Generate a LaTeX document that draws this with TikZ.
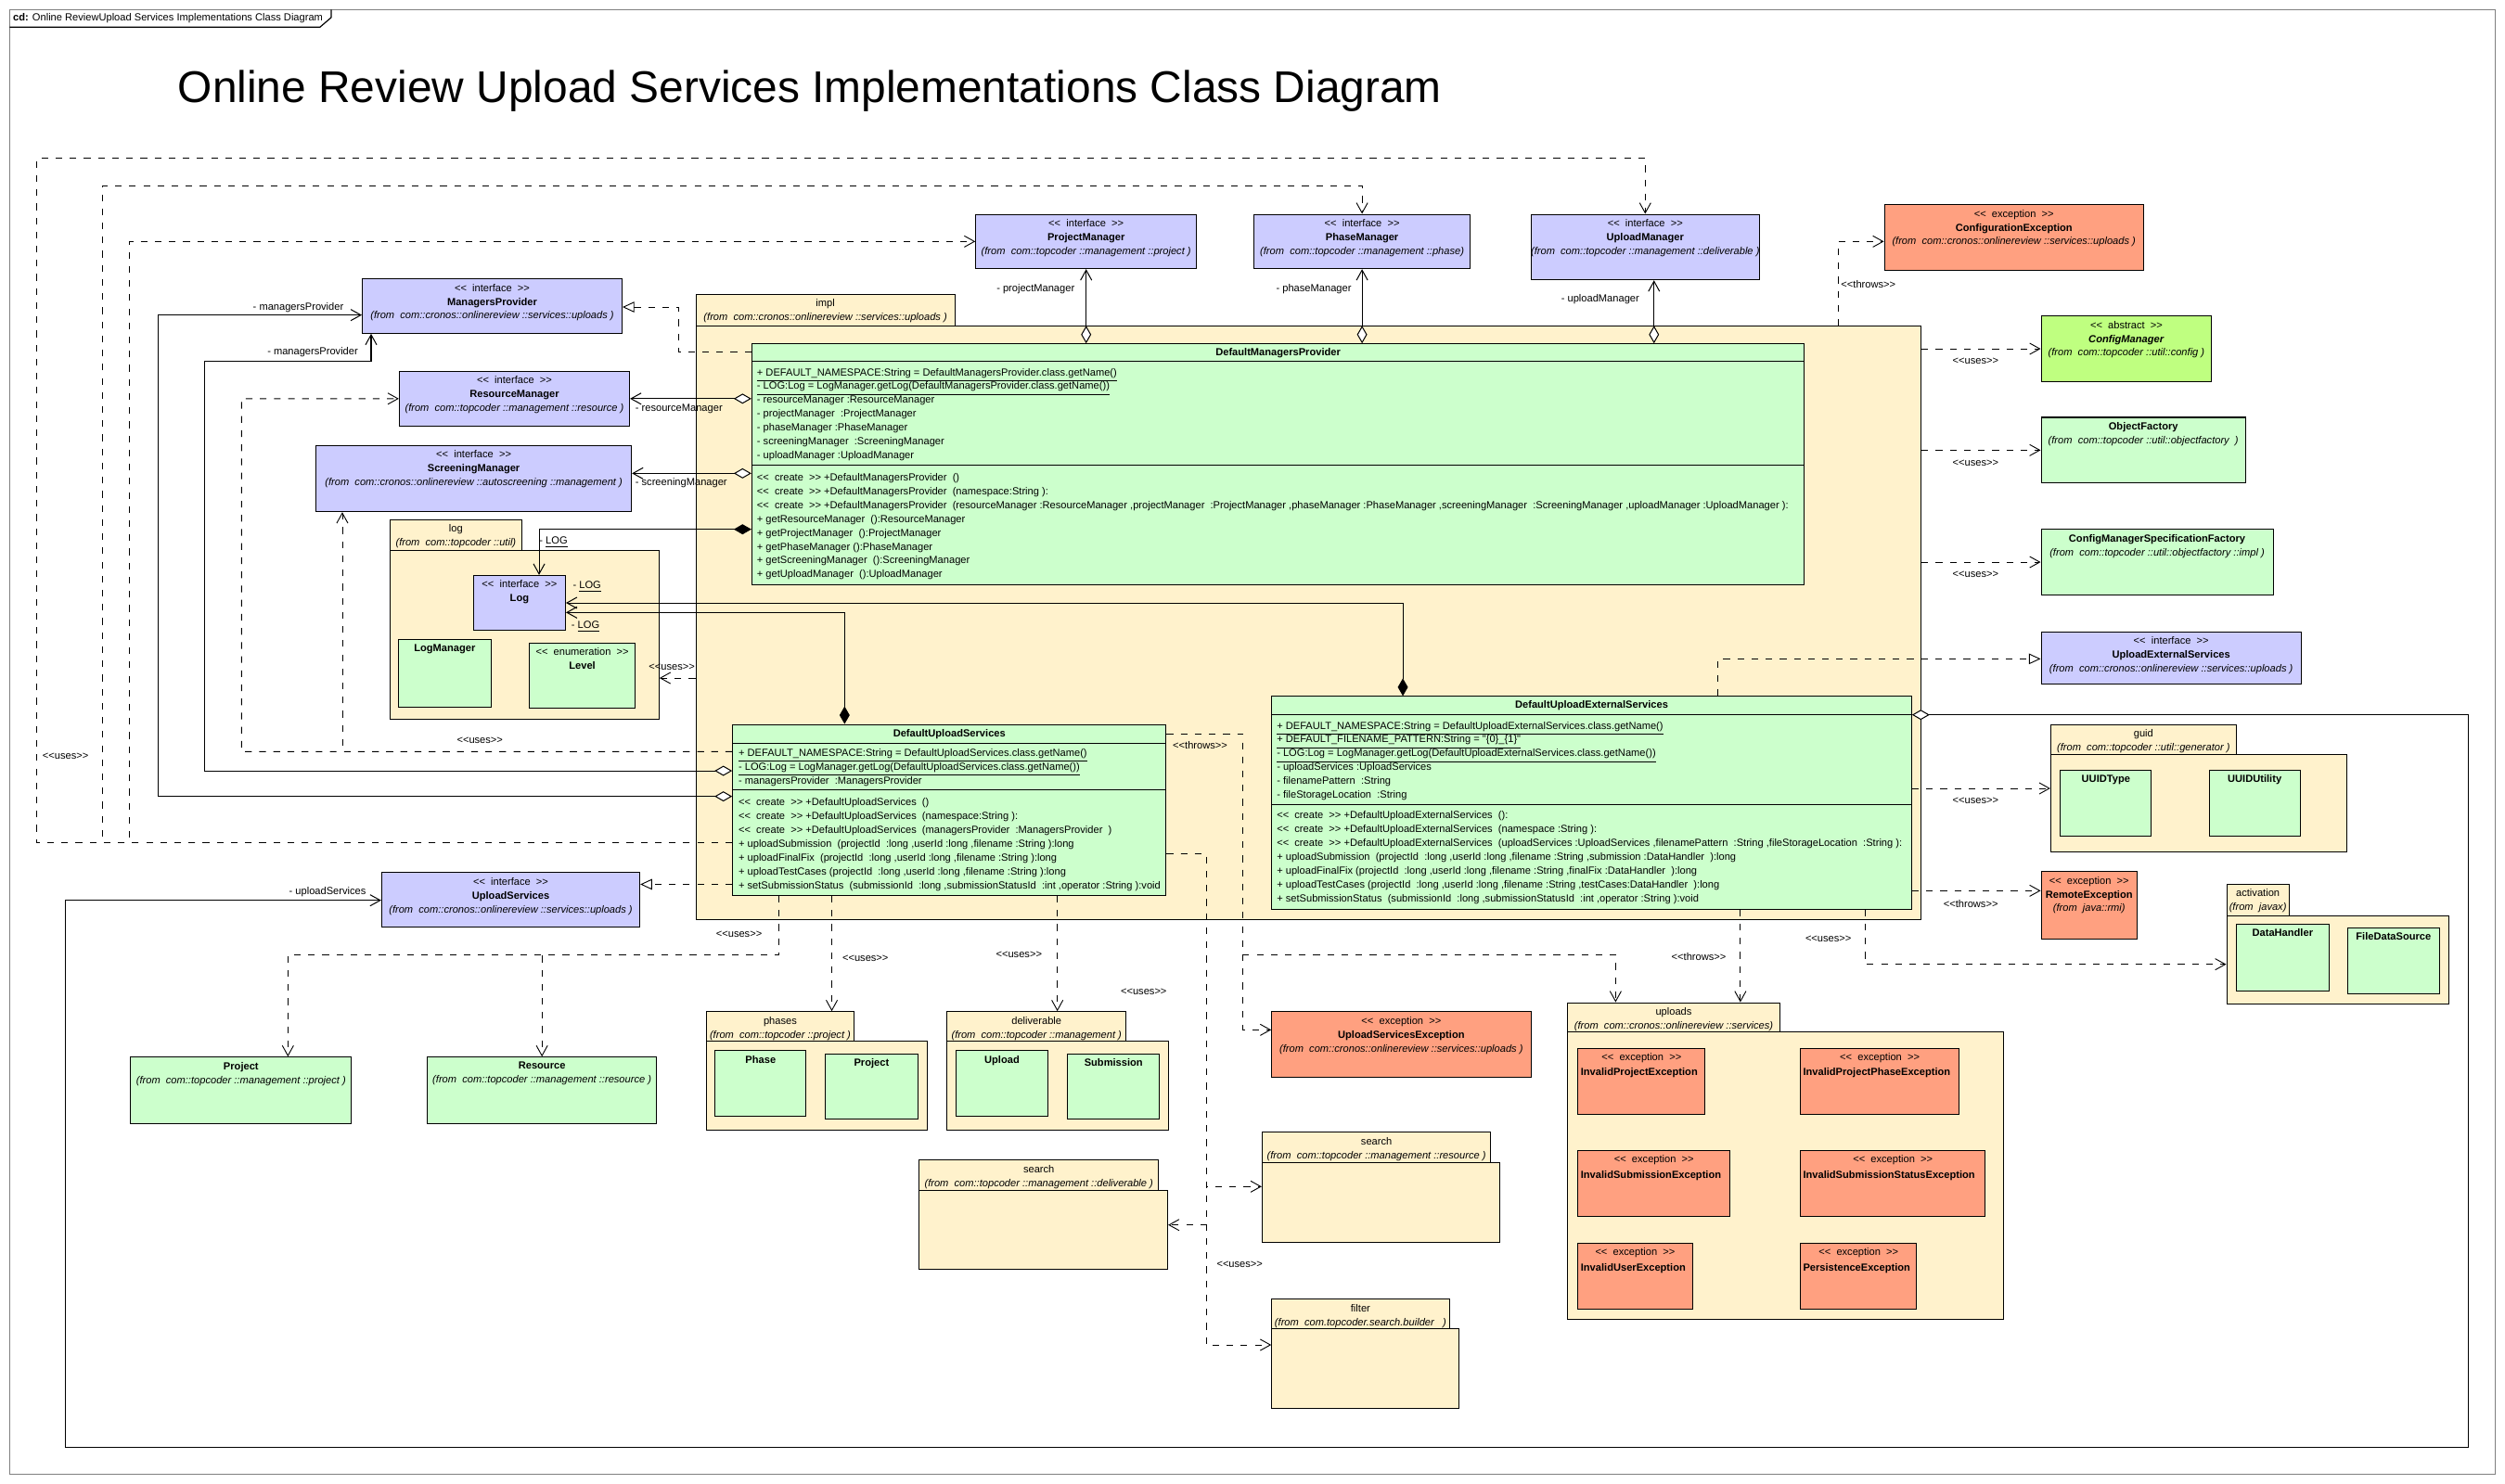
\documentclass[tikz,border=0pt]{standalone}
\usepackage{fontspec}
\newfontfamily\umlfont{Liberation Sans}
\usetikzlibrary{arrows.meta,fit}

\definecolor{ifcol}{RGB}{204,204,255}
\definecolor{clscol}{RGB}{204,255,204}
\definecolor{abscol}{RGB}{191,255,128}
\definecolor{exccol}{RGB}{255,160,128}
\definecolor{pkgcol}{RGB}{255,242,204}

\newcommand{\stereo}[1]{<<\ \ #1\ \ >>}
\newcommand{\fromp}[1]{\textit{(from\ \ #1}}

\tikzset{
  box/.style={draw, line width=0.5pt, inner sep=0pt},
  ifbox/.style={box, fill=ifcol},
  clbox/.style={box, fill=clscol},
  abbox/.style={box, fill=abscol},
  exbox/.style={box, fill=exccol},
  pkbox/.style={box, fill=pkgcol},
  txt/.style={font=\umlfont\fontsize{5.5}{7.4}\selectfont, inner sep=0pt},
  hd/.style={txt, align=center, anchor=north, yshift=-0.95mm},
  cbody/.style={txt, align=left, anchor=north west},
  lbl/.style={txt},
  dline/.style={line width=0.45pt, dash pattern=on 1.25mm off 1.4mm},
  dep/.style={draw, dline, -{Straight Barb[length=1.9mm,width=2.1mm]}},
  realize/.style={draw, dline, -{Triangle[length=2.2mm,width=2mm,fill=white]}},
  aggr/.style={draw, line width=0.5pt, {Diamond[length=3.3mm,width=1.9mm,fill=white]}-{Straight Barb[length=1.9mm,width=2.1mm]}},
  comp/.style={draw, line width=0.5pt, {Diamond[length=3.3mm,width=1.9mm]}-{Straight Barb[length=1.9mm,width=2.1mm]}},
}

\begin{document}
\begin{tikzpicture}[x=0.3mm, y=-0.3mm]
\useasboundingbox (0,0) rectangle (1566,928);

% frame and title
\draw[gray, line width=0.6pt] (6,6) rectangle (1560,922);
\draw[line width=0.6pt] (6,17) -- (200,17) -- (207,11) -- (207,6);
\node[txt, anchor=west] (tabTxt) at (8,11.5) {\textbf{cd:} Online ReviewUpload Services Implementations Class Diagram};
\node[anchor=base west, inner sep=0pt, font=\umlfont\fontsize{23.7}{28}\selectfont] (title) at (111,64) {Online Review Upload Services Implementations Class Diagram};

% packages
\node[pkbox, fit={(435,184) (597,204)}] (implTab) {};
\node[pkbox, fit={(435,204) (1201,575)}] (implPkg) {};
\node[hd] (implTxt) at (implTab.north) {impl\\\fromp{com::cronos::onlinereview ::services::uploads )}};

\node[pkbox, fit={(244,325) (326,344)}] (logTab) {};
\node[pkbox, fit={(244,344) (412,450)}] (logPkg) {};
\node[hd] (logTxt) at (logTab.north) {log\\\fromp{com::topcoder ::util)}};

\node[pkbox, fit={(1282,453) (1398,472)}] (guidTab) {};
\node[pkbox, fit={(1282,472) (1467,533)}] (guidPkg) {};
\node[hd] (guidTxt) at (guidTab.north) {guid\\\fromp{com::topcoder ::util::generator )}};

\node[pkbox, fit={(1392,553) (1431,572.5)}] (actTab) {};
\node[pkbox, fit={(1392,572.5) (1531,628)}] (actPkg) {};
\node[hd] (actTxt) at (actTab.north) {activation\\\fromp{javax)}};

\node[pkbox, fit={(441.5,632.6) (534,651)}] (phTab) {};
\node[pkbox, fit={(441.5,651) (579.5,706.7)}] (phPkg) {};
\node[hd] (phTxt) at (phTab.north) {phases\\\fromp{com::topcoder ::project )}};

\node[pkbox, fit={(592,632.6) (704,651)}] (delTab) {};
\node[pkbox, fit={(592,651) (730.5,706.7)}] (delPkg) {};
\node[hd] (delTxt) at (delTab.north) {deliverable\\\fromp{com::topcoder ::management )}};

\node[pkbox, fit={(574.6,725.5) (724.3,744.3)}] (srchDTab) {};
\node[pkbox, fit={(574.6,744.3) (730,794)}] (srchDPkg) {};
\node[hd] (srchDTxt) at (srchDTab.north) {search\\\fromp{com::topcoder ::management ::deliverable )}};

\node[pkbox, fit={(789,708) (932,727)}] (srchRTab) {};
\node[pkbox, fit={(789,727) (937.6,777)}] (srchRPkg) {};
\node[hd] (srchRTxt) at (srchRTab.north) {search\\\fromp{com::topcoder ::management ::resource )}};

\node[pkbox, fit={(795,812.5) (906,831)}] (fltTab) {};
\node[pkbox, fit={(795,831) (912,881)}] (fltPkg) {};
\node[hd] (fltTxt) at (fltTab.north) {filter\\\fromp{com.topcoder.search.builder\ \ \ )}};

\node[pkbox, fit={(980,627) (1112.6,645.4)}] (upTab) {};
\node[pkbox, fit={(980,645.4) (1252.6,825)}] (upPkg) {};
\node[hd] (upTxt) at (upTab.north) {uploads\\\fromp{com::cronos::onlinereview ::services)}};

% interfaces
\node[ifbox, fit={(610,134) (748,168)}] (projMgr) {};
\node[hd] (projMgrT) at (projMgr.north) {\stereo{interface}\\\textbf{ProjectManager}\\\fromp{com::topcoder ::management ::project )}};
\node[ifbox, fit={(784,134) (919,168)}] (phaseMgr) {};
\node[hd] (phaseMgrT) at (phaseMgr.north) {\stereo{interface}\\\textbf{PhaseManager}\\\fromp{com::topcoder ::management ::phase)}};
\node[ifbox, fit={(957,134) (1100,175)}] (uploadMgr) {};
\node[hd] (uploadMgrT) at (uploadMgr.north) {\stereo{interface}\\\textbf{UploadManager}\\\fromp{com::topcoder ::management ::deliverable )}};
\node[ifbox, fit={(226.5,174.4) (388.9,208.4)}] (mgrsProv) {};
\node[hd] (mgrsProvT) at (mgrsProv.north) {\stereo{interface}\\\textbf{ManagersProvider}\\\fromp{com::cronos::onlinereview ::services::uploads )}};
\node[ifbox, fit={(249.6,232.2) (393.6,266.4)}] (resMgr) {};
\node[hd] (resMgrT) at (resMgr.north) {\stereo{interface}\\\textbf{ResourceManager}\\\fromp{com::topcoder ::management ::resource )}};
\node[ifbox, fit={(197.5,278.4) (394.8,320)}] (scrMgr) {};
\node[hd] (scrMgrT) at (scrMgr.north) {\stereo{interface}\\\textbf{ScreeningManager}\\\fromp{com::cronos::onlinereview ::autoscreening ::management )}};
\node[ifbox, fit={(296,359.8) (353.5,394)}] (logIf) {};
\node[hd] (logIfT) at (logIf.north) {\stereo{interface}\\\textbf{Log}};
\node[ifbox, fit={(238.6,545.6) (400,579.5)}] (uplSvc) {};
\node[hd] (uplSvcT) at (uplSvc.north) {\stereo{interface}\\\textbf{UploadServices}\\\fromp{com::cronos::onlinereview ::services::uploads )}};
\node[ifbox, fit={(1276,395) (1438.6,428)}] (uplExtSvc) {};
\node[hd] (uplExtSvcT) at (uplExtSvc.north) {\stereo{interface}\\\textbf{UploadExternalServices}\\\fromp{com::cronos::onlinereview ::services::uploads )}};

% other classes
\node[exbox, fit={(1178,128) (1340,169)}] (cfgExc) {};
\node[hd] (cfgExcT) at (cfgExc.north) {\stereo{exception}\\\textbf{ConfigurationException}\\\fromp{com::cronos::onlinereview ::services::uploads )}};
\node[abbox, fit={(1276,197.6) (1382.6,238.6)}] (cfgMgr) {};
\node[hd] (cfgMgrT) at (cfgMgr.north) {\stereo{abstract}\\\textbf{\textit{ConfigManager}}\\\fromp{com::topcoder ::util::config )}};
\node[clbox, fit={(1276,261) (1403.8,302)}] (objFac) {};
\node[hd] (objFacT) at (objFac.north) {\textbf{ObjectFactory}\\\fromp{com::topcoder ::util::objectfactory\ \ )}};
\node[clbox, fit={(1276,331) (1421,372)}] (cmsf) {};
\node[hd] (cmsfT) at (cmsf.north) {\textbf{ConfigManagerSpecificationFactory}\\\fromp{com::topcoder ::util::objectfactory ::impl )}};
\node[exbox, fit={(1276,545) (1336,587)}] (remExc) {};
\node[hd] (remExcT) at (remExc.north) {\stereo{exception}\\\textbf{RemoteException}\\\fromp{java::rmi)}};
\node[exbox, fit={(795,632.6) (957,673.5)}] (uplSvcExc) {};
\node[hd] (uplSvcExcT) at (uplSvcExc.north) {\stereo{exception}\\\textbf{UploadServicesException}\\\fromp{com::cronos::onlinereview ::services::uploads )}};
\node[clbox, fit={(81.7,661) (219.7,702.5)}] (project) {};
\node[hd] (projectT) at (project.north) {\textbf{Project}\\\fromp{com::topcoder ::management ::project )}};
\node[clbox, fit={(267,661) (410.6,702.5)}] (resource) {};
\node[hd] (resourceT) at (resource.north) {\textbf{Resource}\\\fromp{com::topcoder ::management ::resource )}};

\node[clbox, fit={(249,400) (307,442)}] (logMgr) {};
\node[hd] (logMgrT) at (logMgr.north) {\textbf{LogManager}};
\node[clbox, fit={(331,402) (397,443)}] (level) {};
\node[hd] (levelT) at (level.north) {\stereo{enumeration}\\\textbf{Level}};
\node[clbox, fit={(1288,481.5) (1345,523)}] (uuidType) {};
\node[hd] (uuidTypeT) at (uuidType.north) {\textbf{UUIDType}};
\node[clbox, fit={(1381,481.5) (1438,523)}] (uuidUtil) {};
\node[hd] (uuidUtilT) at (uuidUtil.north) {\textbf{UUIDUtility}};
\node[clbox, fit={(1398,578) (1456,619.5)}] (dataHandler) {};
\node[hd] (dataHandlerT) at (dataHandler.north) {\textbf{DataHandler}};
\node[clbox, fit={(1467.6,580) (1525,621.6)}] (fileDS) {};
\node[hd] (fileDST) at (fileDS.north) {\textbf{FileDataSource}};
\node[clbox, fit={(447,657) (504,698)}] (phase) {};
\node[hd] (phaseT) at (phase.north) {\textbf{Phase}};
\node[clbox, fit={(516,659) (573.7,700)}] (phProject) {};
\node[hd] (phProjectT) at (phProject.north) {\textbf{Project}};
\node[clbox, fit={(597.8,657) (655,698)}] (upload) {};
\node[hd] (uploadT) at (upload.north) {\textbf{Upload}};
\node[clbox, fit={(667.5,659) (724.8,700)}] (submission) {};
\node[hd] (submissionT) at (submission.north) {\textbf{Submission}};

% exceptions of the uploads package
\node[exbox, fit={(986.4,655.5) (1066,697)}] (invProj) {};
\node[hd] (invProjS) at (invProj.north) {\stereo{exception}};
\node[txt, anchor=west] (invProjN) at (988,671) {\textbf{InvalidProjectException}};
\node[exbox, fit={(1125.6,655.5) (1224.7,697)}] (invPhase) {};
\node[hd] (invPhaseS) at (invPhase.north) {\stereo{exception}};
\node[txt, anchor=west] (invPhaseN) at (1127,671) {\textbf{InvalidProjectPhaseException}};
\node[exbox, fit={(986.4,719.4) (1081.6,760.8)}] (invSub) {};
\node[hd] (invSubS) at (invSub.north) {\stereo{exception}};
\node[txt, anchor=west] (invSubN) at (988,735) {\textbf{InvalidSubmissionException}};
\node[exbox, fit={(1125.6,719.4) (1241,760.8)}] (invStat) {};
\node[hd] (invStatS) at (invStat.north) {\stereo{exception}};
\node[txt, anchor=west] (invStatN) at (1127,735) {\textbf{InvalidSubmissionStatusException}};
\node[exbox, fit={(986.4,777.4) (1058,818.6)}] (invUser) {};
\node[hd] (invUserS) at (invUser.north) {\stereo{exception}};
\node[txt, anchor=west] (invUserN) at (988,793) {\textbf{InvalidUserException}};
\node[exbox, fit={(1125.6,777.4) (1198.2,818.6)}] (persist) {};
\node[hd] (persistS) at (persist.north) {\stereo{exception}};
\node[txt, anchor=west] (persistN) at (1127,793) {\textbf{PersistenceException}};

% DefaultManagersProvider
\node[clbox, fit={(470,215) (1128,365.5)}] (dmp) {};
\draw[line width=0.5pt] (dmp.west |- 0,226) -- (dmp.east |- 0,226);
\draw[line width=0.5pt] (dmp.west |- 0,291) -- (dmp.east |- 0,291);
\node[txt] (dmpName) at (799,221) {\textbf{DefaultManagersProvider}};
\node[cbody] (dmpAttr) at (473,230) {\underline{+ DEFAULT\_NAMESPACE:String = DefaultManagersProvider.class.getName()}\\
\underline{- LOG:Log = LogManager.getLog(DefaultManagersProvider.class.getName())}\\
- resourceManager :ResourceManager\\
- projectManager\ \ :ProjectManager\\
- phaseManager :PhaseManager\\
- screeningManager\ \ :ScreeningManager\\
- uploadManager :UploadManager};
\node[cbody] (dmpOps) at (473,295.7) {\stereo{create} +DefaultManagersProvider\ \ ()\\
\stereo{create} +DefaultManagersProvider\ \ (namespace:String ):\\
\stereo{create} +DefaultManagersProvider\ \ (resourceManager :ResourceManager ,projectManager\ \ :ProjectManager ,phaseManager :PhaseManager ,screeningManager\ \ :ScreeningManager ,uploadManager :UploadManager ):\\
+ getResourceManager\ \ ():ResourceManager\\
+ getProjectManager\ \ ():ProjectManager\\
+ getPhaseManager ():PhaseManager\\
+ getScreeningManager\ \ ():ScreeningManager\\
+ getUploadManager\ \ ():UploadManager};

% DefaultUploadServices
\node[clbox, fit={(458,453) (729,560)}] (dus) {};
\draw[line width=0.5pt] (dus.west |- 0,465) -- (dus.east |- 0,465);
\draw[line width=0.5pt] (dus.west |- 0,494) -- (dus.east |- 0,494);
\node[txt] (dusName) at (593.5,459) {\textbf{DefaultUploadServices}};
\node[cbody] (dusAttr) at (461.5,468) {\underline{+ DEFAULT\_NAMESPACE:String = DefaultUploadServices.class.getName()}\\
\underline{- LOG:Log = LogManager.getLog(DefaultUploadServices.class.getName())}\\
- managersProvider\ \ :ManagersProvider};
\node[cbody] (dusOps) at (461.5,499) {\stereo{create} +DefaultUploadServices\ \ ()\\
\stereo{create} +DefaultUploadServices\ \ (namespace:String ):\\
\stereo{create} +DefaultUploadServices\ \ (managersProvider\ \ :ManagersProvider\ \ )\\
+ uploadSubmission\ \ (projectId\ \ :long ,userId :long ,filename :String ):long\\
+ uploadFinalFix\ \ (projectId\ \ :long ,userId :long ,filename :String ):long\\
+ uploadTestCases (projectId\ \ :long ,userId :long ,filename :String ):long\\
+ setSubmissionStatus\ \ (submissionId\ \ :long ,submissionStatusId\ \ :int ,operator :String ):void};

% DefaultUploadExternalServices
\node[clbox, fit={(795,435.5) (1195,568.5)}] (dues) {};
\draw[line width=0.5pt] (dues.west |- 0,446.6) -- (dues.east |- 0,446.6);
\draw[line width=0.5pt] (dues.west |- 0,503) -- (dues.east |- 0,503);
\node[txt] (duesName) at (995,441) {\textbf{DefaultUploadExternalServices}};
\node[cbody] (duesAttr) at (798,451) {\underline{+ DEFAULT\_NAMESPACE:String = DefaultUploadExternalServices.class.getName()}\\
\underline{+ DEFAULT\_FILENAME\_PATTERN:String = "\{0\}\_\{1\}"}\\
\underline{- LOG:Log = LogManager.getLog(DefaultUploadExternalServices.class.getName())}\\
- uploadServices :UploadServices\\
- filenamePattern\ \ :String\\
- fileStorageLocation\ \ :String};
\node[cbody] (duesOps) at (798,507) {\stereo{create} +DefaultUploadExternalServices\ \ ():\\
\stereo{create} +DefaultUploadExternalServices\ \ (namespace :String ):\\
\stereo{create} +DefaultUploadExternalServices\ \ (uploadServices :UploadServices ,filenamePattern\ \ :String ,fileStorageLocation\ \ :String ):\\
+ uploadSubmission\ \ (projectId\ \ :long ,userId :long ,filename :String ,submission :DataHandler\ \ ):long\\
+ uploadFinalFix (projectId\ \ :long ,userId :long ,filename :String ,finalFix :DataHandler\ \ ):long\\
+ uploadTestCases (projectId\ \ :long ,userId :long ,filename :String ,testCases:DataHandler\ \ ):long\\
+ setSubmissionStatus\ \ (submissionId\ \ :long ,submissionStatusId\ \ :int ,operator :String ):void};

% uses of the managers from DefaultUploadServices
\draw[dep] (dus.west |- 0,527) -- (23,527) -- (23,99) -- (uploadMgr.north |- 0,99) -- (uploadMgr.north);
\draw[dep] (dus.west |- 0,527) -- (64,527) -- (64,116) -- (phaseMgr.north |- 0,116) -- (phaseMgr.north);
\draw[dep] (dus.west |- 0,527) -- (81,527) -- (81,151) -- (projMgr.west);
\node[lbl] (uses1) at (41,473) {<<uses>>};

% DefaultManagersProvider
\draw[realize] (dmp.west |- 0,220) -- (424,220) -- (424,192) -- (mgrsProv.east |- 0,192);
\draw[aggr] (dmp.north -| projMgr.south) -- (projMgr.south);
\draw[aggr] (dmp.north -| phaseMgr.south) -- (phaseMgr.south);
\draw[aggr] (dmp.north -| 1034,0) -- (uploadMgr.south -| 1034,0);
\draw[aggr] (dmp.west |- resMgr.east) -- (resMgr.east);
\draw[aggr] (dmp.west |- 0,296) -- (scrMgr.east |- 0,296);
\draw[comp] (dmp.west |- 0,331) -- (337,331) -- (logIf.north -| 337,0);
\node[lbl, anchor=east] (lPM) at (672,181) {- projectManager};
\node[lbl, anchor=east] (lPhM) at (845,181) {- phaseManager};
\node[lbl, anchor=east] (lUM) at (1025,187) {- uploadManager};
\node[lbl, anchor=west] (lRM) at (397,255.5) {- resourceManager};
\node[lbl, anchor=west] (lSM) at (397,302) {- screeningManager};
\node[lbl, anchor=west] (lLog1) at (337,339) {- \underline{LOG}};

% DefaultUploadServices
\draw[aggr] (dus.west |- 0,482) -- (128,482) -- (128,226) -- (232,226) -- (mgrsProv.south -| 232,0);
\draw[aggr] (dus.west |- 0,498) -- (99,498) -- (99,197) -- (mgrsProv.west |- 0,197);
\node[lbl, anchor=east] (lMP1) at (215,192.5) {- managersProvider};
\node[lbl, anchor=east] (lMP2) at (224,220) {- managersProvider};
\draw[dep] (dus.west |- 0,470) -- (151,470) -- (151,249.3) -- (resMgr.west);
\draw[dep] (dus.west |- 0,470) -- (214,470) -- (scrMgr.south -| 214,0);
\node[lbl] (uses2) at (300,463) {<<uses>>};
\draw[comp] (dus.north -| 528,0) -- (528,383) -- (logIf.east |- 0,383);
\draw[comp] (dues.north -| 877,0) -- (877,377) -- (logIf.east |- 0,377);
\node[lbl, anchor=west] (lLog2) at (358,367) {- \underline{LOG}};
\node[lbl, anchor=west] (lLog3) at (357,392) {- \underline{LOG}};
\draw[dep] (implPkg.west |- 0,424) -- (logPkg.east |- 0,424);
\node[lbl] (uses3) at (420,417) {<<uses>>};
\draw[realize] (dus.west |- 0,553) -- (uplSvc.east |- 0,553);
\draw[aggr] (dues.east |- 0,447) -- (1543,447) -- (1543,905) -- (41,905) -- (41,563) -- (uplSvc.west |- 0,563);
\node[lbl, anchor=east] (lUS) at (229,558) {- uploadServices};

% DefaultUploadServices below and right
\draw[dep] (dus.south -| 487,0) -- (487,597) -- (180,597) -- (project.north -| 180,0);
\draw[dep] (dus.south -| 487,0) -- (487,597) -- (resource.north |- 0,597) -- (resource.north);
\draw[dep] (dus.south -| 520,0) -- (phTab.north -| 520,0);
\draw[dep] (dus.south -| 661,0) -- (delTab.north -| 661,0);
\node[lbl] (uses4) at (462,584) {<<uses>>};
\node[lbl] (uses5) at (541,599.5) {<<uses>>};
\node[lbl] (uses6) at (637,597) {<<uses>>};
\draw[dep] (dus.east |- 0,459) -- (777,459) -- (777,644) -- (uplSvcExc.west |- 0,644);
\draw[dep] (dus.east |- 0,459) -- (777,459) -- (777,597) -- (1010,597) -- (upTab.north -| 1010,0);
\node[lbl, anchor=west] (throws1) at (733,466) {<<throws>>};
\node[lbl] (throws2) at (1062,598) {<<throws>>};
\draw[dep] (dus.east |- 0,534) -- (754,534) -- (754,742) -- (srchRPkg.west |- 0,742);
\draw[dep] (dus.east |- 0,534) -- (754,534) -- (754,766) -- (srchDPkg.east |- 0,766);
\draw[dep] (dus.east |- 0,534) -- (754,534) -- (754,841) -- (fltPkg.west |- 0,841);
\node[lbl] (uses7) at (715,620) {<<uses>>};
\node[lbl] (uses8) at (775,791) {<<uses>>};

% DefaultUploadExternalServices
\draw[realize] (dues.north -| 1074,0) -- (1074,412) -- (uplExtSvc.west |- 0,412);
\draw[dep] (dues.east |- 0,493) -- (guidPkg.west |- 0,493);
\node[lbl] (uses9) at (1235,500.5) {<<uses>>};
\draw[dep] (dues.east |- 0,557) -- (remExc.west |- 0,557);
\node[lbl] (throws3) at (1232,565) {<<throws>>};
\draw[dep] (dues.south -| 1166,0) -- (1166,603) -- (actPkg.west |- 0,603);
\node[lbl] (uses10) at (1143,587) {<<uses>>};
\draw[dep] (dues.south -| 1088,0) -- (upTab.north -| 1088,0);

% impl package right side
\draw[dep] (implPkg.east |- cfgMgr.west) -- (cfgMgr.west);
\draw[dep] (implPkg.east |- objFac.west) -- (objFac.west);
\draw[dep] (implPkg.east |- cmsf.west) -- (cmsf.west);
\node[lbl] (uses11) at (1235,226) {<<uses>>};
\node[lbl] (uses12) at (1235,289.5) {<<uses>>};
\node[lbl] (uses13) at (1235,359) {<<uses>>};
\draw[dep] (implPkg.north -| 1149,0) -- (1149,151) -- (cfgExc.west |- 0,151);
\node[lbl] (throws4) at (1168,178) {<<throws>>};
\end{tikzpicture}
\end{document}
